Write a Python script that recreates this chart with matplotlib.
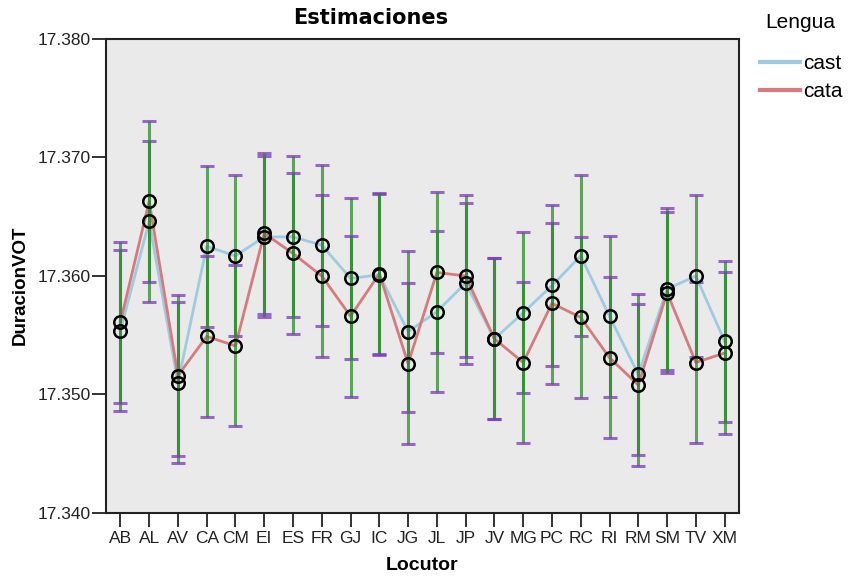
import matplotlib.pyplot as plt
import numpy as np

locutores = ["AB", "AL", "AV", "CA", "CM", "EI", "ES", "FR", "GJ", "IC", "JG",
             "JL", "JP", "JV", "MG", "PC", "RC", "RI", "RM", "SM", "TV", "XM"]

# medias estimadas por lengua
cast = [17.3554, 17.3646, 17.3510, 17.3625, 17.3617, 17.3633, 17.3633, 17.3626,
        17.3598, 17.3601, 17.3553, 17.3570, 17.3594, 17.3547, 17.3569, 17.3592,
        17.3617, 17.3566, 17.3517, 17.3589, 17.3600, 17.3545]
cata = [17.3561, 17.3663, 17.3516, 17.3549, 17.3541, 17.3636, 17.3619, 17.3600,
        17.3566, 17.3602, 17.3526, 17.3603, 17.3600, 17.3547, 17.3527, 17.3577,
        17.3565, 17.3531, 17.3508, 17.3586, 17.3527, 17.3535]

# semiamplitud del intervalo de confianza (igual para todos)
semi_ic = 0.0068

yticks = [17.340, 17.350, 17.360, 17.370, 17.380]

col_cast = "#9fcbe0"
col_cata = "#d77a7c"
col_barra = "#2f8a2f"
col_tope = "#7a3cb8"

plt.rcParams["font.family"] = ["Liberation Sans", "DejaVu Sans"]

fig = plt.figure(figsize=(8.51, 5.76), dpi=100)
ax = fig.add_axes([106 / 851, 1 - 513 / 576, 633 / 851, 474 / 576])
ax.set_facecolor("#eaeaea")

x = np.arange(len(locutores))

l1, = ax.plot(x, cast, color=col_cast, lw=2, zorder=2, label="cast")
l2, = ax.plot(x, cata, color=col_cata, lw=2, zorder=2, label="cata")

for serie in (cast, cata):
    _, topes, barras = ax.errorbar(x, serie, yerr=semi_ic, fmt="none",
                                   ecolor=col_barra, elinewidth=2.2, alpha=0.75,
                                   capsize=4.7, capthick=2.2, zorder=3)
    for t in topes:
        t.set_color(col_tope)
        t.set_markeredgecolor(col_tope)

for serie in (cast, cata):
    ax.plot(x, serie, ls="none", marker="o", ms=9, mfc="none", mec="black",
            mew=1.8, zorder=4)

ax.set_xlim(-0.5, len(locutores) - 0.5)
ax.set_ylim(17.340, 17.380)
ax.set_xticks(x)
ax.set_xticklabels(locutores, fontsize=12.5)
ax.set_yticks(yticks)
ax.set_yticklabels([f"{v:.3f}" for v in yticks], fontsize=12.5)
ax.tick_params(axis="both", length=10, width=1.3, colors="#222222")
ax.tick_params(axis="x", pad=3)
ax.tick_params(axis="y", pad=1)

for lado in ax.spines.values():
    lado.set_linewidth(1.5)
    lado.set_color("#222222")

ax.set_xlabel("Locutor", fontsize=14, fontweight="bold", labelpad=8)
ax.set_ylabel("DuracionVOT", fontsize=13.5, fontweight="bold")
ax.yaxis.set_label_coords(-0.122, 0.481)

fig.text(371 / 851, 1 - 18 / 576, "Estimaciones", ha="center", va="center",
         fontsize=15, fontweight="bold", family=["DejaVu Sans"])

# leyenda fuera del área de datos
fig.text(800 / 851, 1 - 22 / 576, "Lengua", ha="center", va="center", fontsize=15)
leg = fig.legend(handles=[l1, l2], loc="upper left",
                 bbox_to_anchor=(760 / 851, 1 - 54 / 576), frameon=False,
                 fontsize=15, borderpad=0, borderaxespad=0,
                 handlelength=1.9, handletextpad=0.15, labelspacing=0.45)
for h in leg.get_lines():
    h.set_linewidth(3)

fig.savefig("out.png", dpi=100)
